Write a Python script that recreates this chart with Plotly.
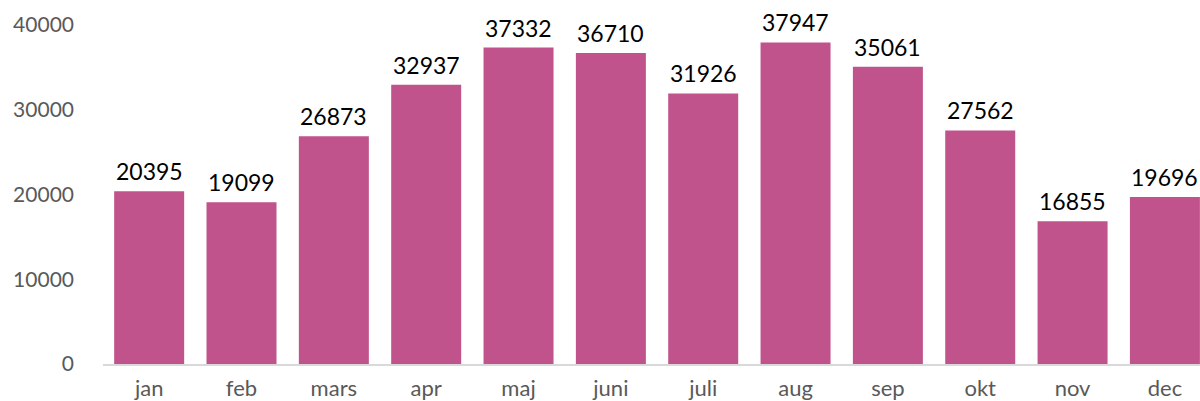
import plotly.graph_objects as go

months = ["jan", "feb", "mars", "apr", "maj", "juni", "juli", "aug", "sep", "okt", "nov", "dec"]
values = [20395, 19099, 26873, 32937, 37332, 36710, 31926, 37947, 35061, 27562, 16855, 19696]
y_ticks = [0, 10000, 20000, 30000, 40000]

bar_color = "#C0538C"
axis_text = "#595959"
font_family = "Lato, sans-serif"

fig = go.Figure(
    go.Bar(
        x=months,
        y=values,
        marker=dict(color=bar_color, line=dict(width=0)),
        hoverinfo="x+y",
    )
)

# value labels sitting just above each bar
for m, v in zip(months, values):
    fig.add_annotation(
        x=m,
        y=v,
        text=str(v),
        showarrow=False,
        yanchor="bottom",
        yshift=4,
        font=dict(family=font_family, size=23, color="#000000"),
    )

fig.update_layout(
    width=1200,
    height=401,
    margin=dict(l=103, r=0, t=25, b=37),
    paper_bgcolor="white",
    plot_bgcolor="white",
    bargap=0.242,
    showlegend=False,
)

fig.update_xaxes(
    range=[-0.5, 11.38],
    showline=True,
    linecolor="#D9D9D9",
    linewidth=2,
    showgrid=False,
    ticks="",
    ticklabelstandoff=4,
    tickfont=dict(family=font_family, size=22, color=axis_text),
)

fig.update_yaxes(
    range=[0, 40000],
    tickvals=y_ticks,
    ticktext=[str(t) for t in y_ticks],
    showgrid=False,
    zeroline=False,
    showline=False,
    ticks="",
    ticklabelstandoff=28,
    tickfont=dict(family=font_family, size=21, color=axis_text),
)

fig.write_html("out.html")
